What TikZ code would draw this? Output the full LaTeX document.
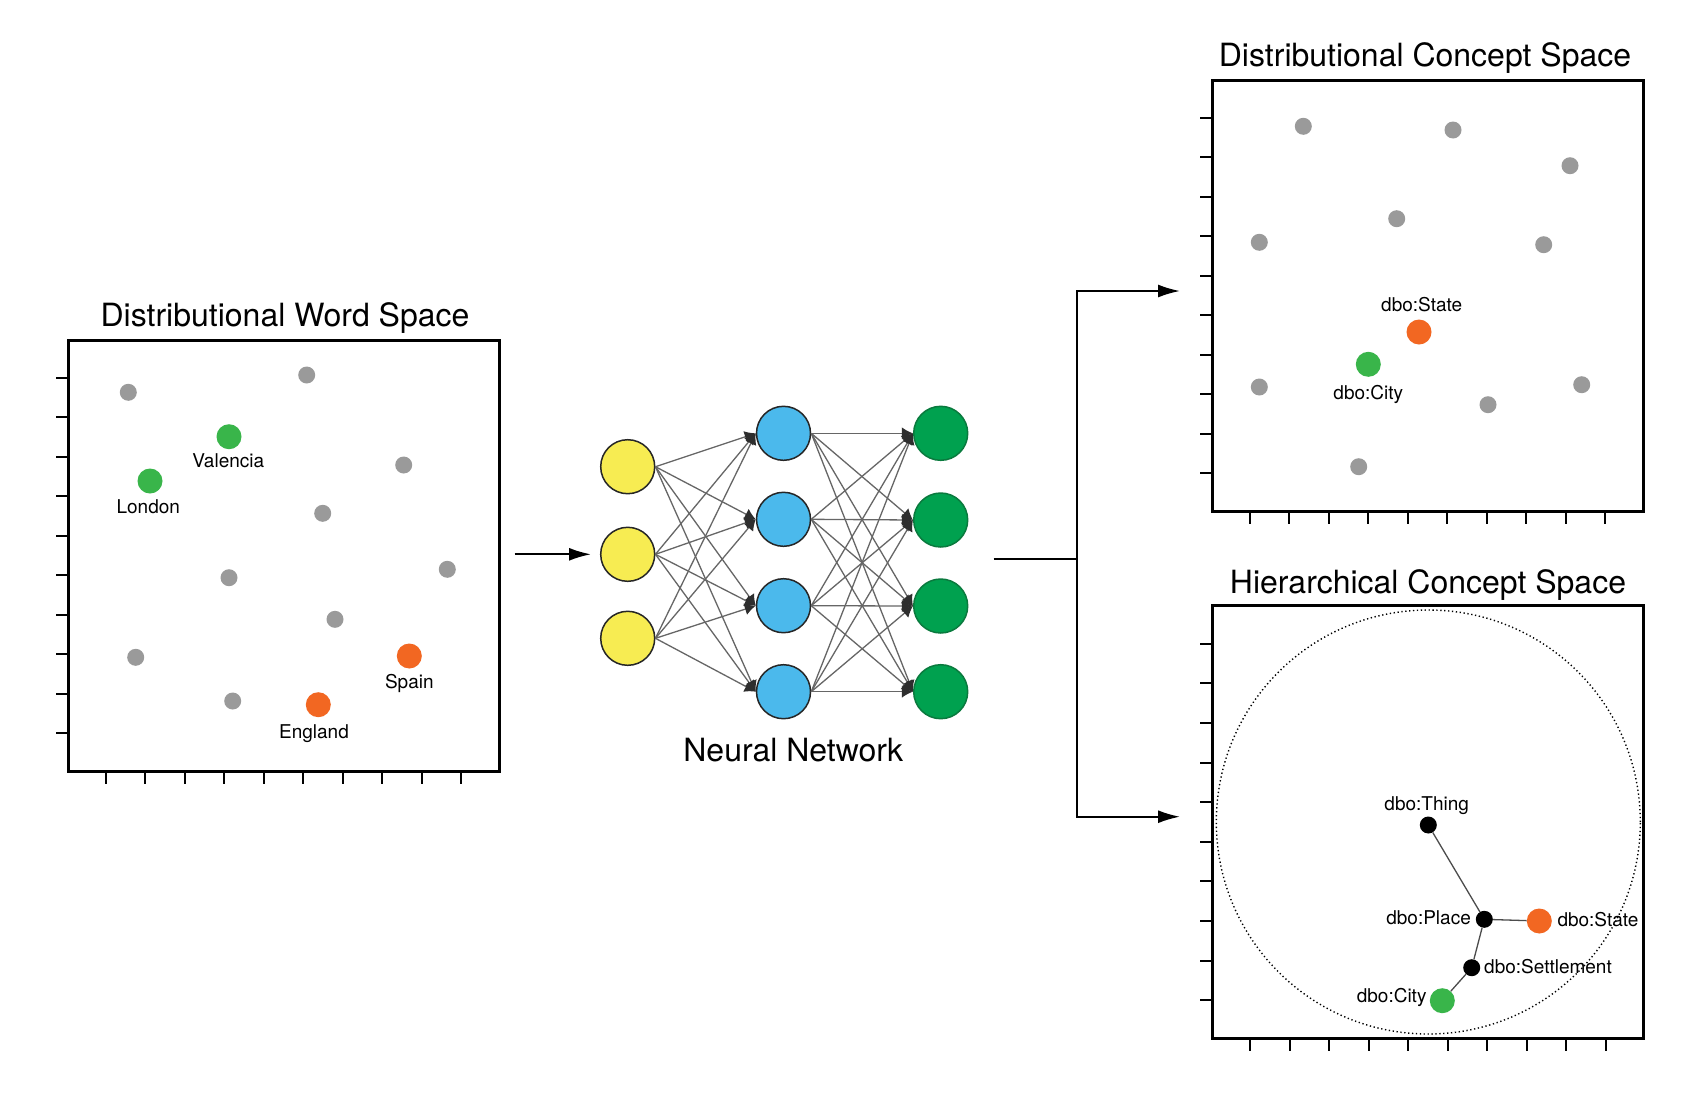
\documentclass[tikz,border=0pt]{standalone}
\usepackage{fontspec}
\setmainfont{TeX Gyre Heros}
\usetikzlibrary{arrows.meta,calc}
\definecolor{dotgray}{HTML}{9A9A9A}
\definecolor{cgreen}{HTML}{39B54A}
\definecolor{corange}{HTML}{F26722}
\definecolor{nyellow}{HTML}{F7EC52}
\definecolor{nblue}{HTML}{4BB9EC}
\definecolor{ngreen}{HTML}{00A14F}
\definecolor{ngreenline}{HTML}{0A7A3E}
\tikzset{
  spacebox/.style={draw=black,line width=3pt,minimum width=431pt,minimum height=431pt,inner sep=0pt},
  tickmark/.style={line width=2pt},
  ttl/.style={inner sep=0pt,anchor=base,font=\fontsize{32}{38}\selectfont},
  lbl/.style={inner sep=0pt,anchor=base,font=\fontsize{19}{23}\selectfont},
  gdot/.style={circle,fill=dotgray,minimum size=17pt,inner sep=0pt},
  greendot/.style={circle,fill=cgreen,minimum size=25pt,inner sep=0pt},
  orangedot/.style={circle,fill=corange,minimum size=25pt,inner sep=0pt},
  bdot/.style={circle,fill=black,minimum size=17pt,inner sep=0pt},
  neuron/.style={circle,minimum size=54pt,inner sep=0pt,line width=1.5pt},
  yneuron/.style={neuron,fill=nyellow,draw=black!85},
  bneuron/.style={neuron,fill=nblue,draw=black!85},
  gneuron/.style={neuron,fill=ngreen,draw=ngreenline},
  nnedge/.style={draw=black!60,line width=1.3pt,-{Latex[length=11pt,width=12pt,color=black!82]}},
  mainarrow/.style={line width=2pt,-{Latex[length=22pt,width=13pt]}},
  mainline/.style={line width=2pt},
  treeline/.style={draw=black!70,line width=1.3pt},
}
\begin{document}
\begin{tikzpicture}[x=1pt,y=-1pt]
\useasboundingbox[fill=white] (0,0) rectangle (1696,1106);

% ---------- Distributional Word Space ----------
\node[spacebox] (wbox) at (283.5,555.5) {};
\node[ttl] (wtitle) at (285,326) {Distributional Word Space};
\foreach \i in {1,...,10}{
  \draw[tickmark] ($(wbox.north west)!\i/11!(wbox.south west)$) -- ++(-11,0);
  \draw[tickmark] ($(wbox.south west)!\i/11!(wbox.south east)$) -- ++(0,11);
}
\node[gdot] (w1) at (128.3,392.3) {};
\node[gdot] (w2) at (306.7,375) {};
\node[gdot] (w3) at (403.7,465) {};
\node[gdot] (w4) at (322.7,513.3) {};
\node[gdot] (w5) at (447.3,569.3) {};
\node[gdot] (w6) at (229,577.7) {};
\node[gdot] (w7) at (335,619.3) {};
\node[gdot] (w8) at (135.7,657.3) {};
\node[gdot] (w9) at (232.7,701) {};
\node[greendot] (valencia) at (229,436.7) {};
\node[greendot] (london) at (150,481) {};
\node[orangedot] (spain) at (409.3,656) {};
\node[orangedot] (england) at (318.3,704.7) {};
\node[lbl] (lvalencia) at (228.3,467.7) {Valencia};
\node[lbl] (llondon) at (148.3,513.3) {London};
\node[lbl] (lspain) at (409.3,688.3) {Spain};
\node[lbl] (lengland) at (314,738) {England};

% ---------- Neural network ----------
\node[yneuron] (y1) at (627.7,466.7) {};
\node[yneuron] (y2) at (627.7,554.3) {};
\node[yneuron] (y3) at (627.7,638.3) {};
\node[bneuron] (h1) at (783.5,433.3) {};
\node[bneuron] (h2) at (783.5,519.3) {};
\node[bneuron] (h3) at (783.5,605.7) {};
\node[bneuron] (h4) at (783.5,691.7) {};
\node[gneuron] (o1) at (940.7,433.3) {};
\node[gneuron] (o2) at (940.7,520) {};
\node[gneuron] (o3) at (940.7,606) {};
\node[gneuron] (o4) at (940.7,691.7) {};
\foreach \a in {1,2,3}{\foreach \b in {1,2,3,4}{\draw[nnedge] (y\a.east) -- (h\b.west);}}
\foreach \a in {1,2,3,4}{\foreach \b in {1,2,3,4}{\draw[nnedge] (h\a.east) -- (o\b.west);}}
\node[ttl] (nntitle) at (793.3,761.7) {Neural Network};

% ---------- connectors ----------
\coordinate (inStart) at (514.5,554.3);
\coordinate (inEnd) at (591,554.3);
\draw[mainarrow] (inStart) -- (inEnd);
\coordinate (nnout) at (993.7,559);
\coordinate (junc) at (1077,559);
\coordinate (toDCS) at (1180,291);
\coordinate (toHCS) at (1180,816.7);
\draw[mainline] (nnout) -- (junc);
\draw[mainarrow] (junc) |- (toDCS);
\draw[mainarrow] (junc) |- (toHCS);

% ---------- Distributional Concept Space ----------
\node[spacebox] (dbox) at (1427.5,295.5) {};
\node[ttl] (dtitle) at (1425,66.7) {Distributional Concept Space};
\foreach \i in {1,...,10}{
  \draw[tickmark] ($(dbox.north west)!\i/11!(dbox.south west)$) -- ++(-11,0);
  \draw[tickmark] ($(dbox.south west)!\i/11!(dbox.south east)$) -- ++(0,11);
}
\node[gdot] (d1) at (1303.3,126.3) {};
\node[gdot] (d2) at (1453,130) {};
\node[gdot] (d3) at (1570,165.7) {};
\node[gdot] (d4) at (1396.7,218.7) {};
\node[gdot] (d5) at (1259.3,242.3) {};
\node[gdot] (d6) at (1543.7,244.7) {};
\node[gdot] (d7) at (1259.3,387) {};
\node[gdot] (d8) at (1581.7,384.7) {};
\node[gdot] (d9) at (1488,404.7) {};
\node[gdot] (d10) at (1358.7,466.7) {};
\node[orangedot] (dstate) at (1419,332) {};
\node[greendot] (dcity) at (1368.3,364.3) {};
\node[lbl] (ldstate) at (1421.7,311) {dbo:State};
\node[lbl] (ldcity) at (1368.3,399.3) {dbo:City};

% ---------- Hierarchical Concept Space ----------
\node[spacebox,minimum height=433pt] (hbox) at (1428,822) {};
\node[ttl] (htitle) at (1428,593.3) {Hierarchical Concept Space};
\foreach \i in {1,...,10}{
  \draw[tickmark] ($(hbox.north west)!\i/11!(hbox.south west)$) -- ++(-11,0);
  \draw[tickmark] ($(hbox.south west)!\i/11!(hbox.south east)$) -- ++(0,11);
}
\node[circle,draw=black,line width=1.4pt,dash pattern=on 1.3pt off 2.6pt,minimum size=424pt,inner sep=0pt] (ball) at (1428.3,822) {};
\node[bdot] (thing) at (1428.3,825) {};
\node[bdot] (place) at (1484.3,919.3) {};
\node[bdot] (settle) at (1471.7,967.7) {};
\node[orangedot] (hstate) at (1539.3,921) {};
\node[greendot] (hcity) at (1442.3,1000.7) {};
\draw[treeline] (thing) -- (place);
\draw[treeline] (place) -- (hstate);
\draw[treeline] (place) -- (settle);
\draw[treeline] (settle) -- (hcity);
\node[lbl] (lthing) at (1426.7,810.7) {dbo:Thing};
\node[lbl,anchor=base east] (lplace) at (1471,924.3) {dbo:Place};
\node[lbl,anchor=base west] (lhstate) at (1557.3,926) {dbo:State};
\node[lbl,anchor=base west] (lsettle) at (1484,973.3) {dbo:Settlement};
\node[lbl,anchor=base east] (lhcity) at (1426.7,1002.3) {dbo:City};
\end{tikzpicture}
\end{document}
